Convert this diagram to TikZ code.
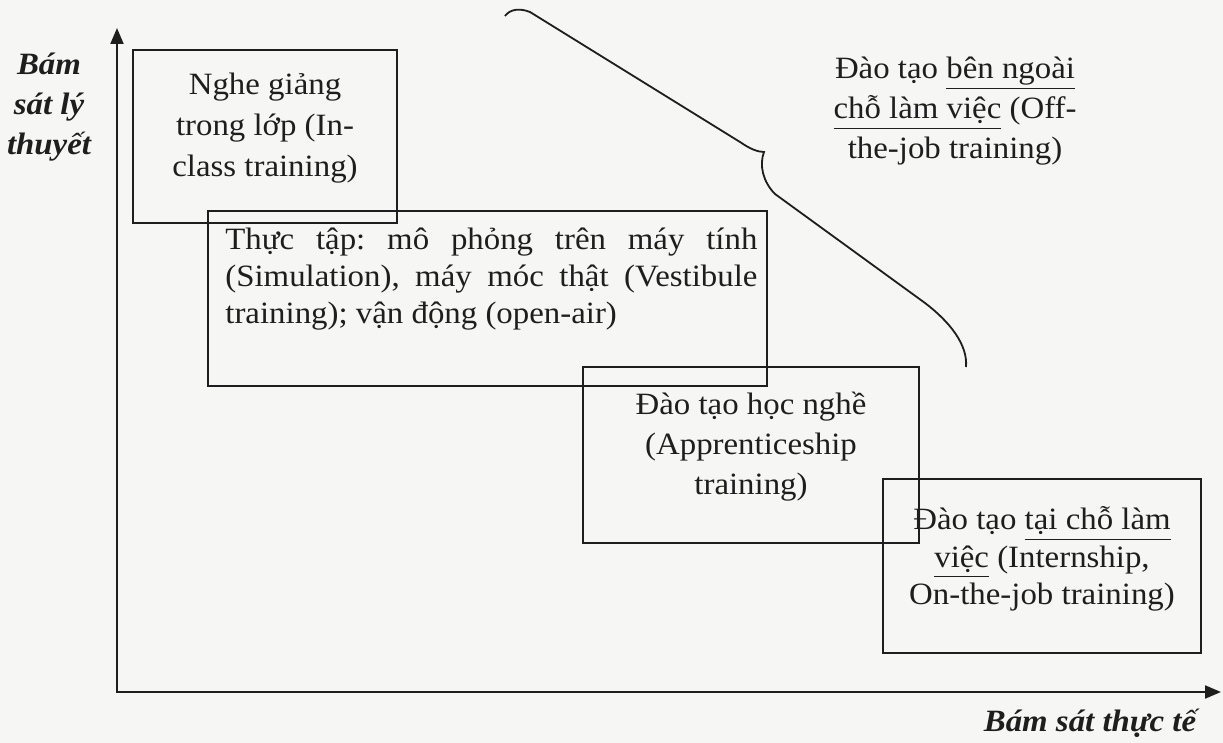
\documentclass[tikz,border=0pt]{standalone}
\usepackage{fontspec}
\setmainfont{Liberation Serif}[FakeStretch=1.06]
\usetikzlibrary{arrows.meta}
\definecolor{paper}{RGB}{246,246,244}
\definecolor{ink}{RGB}{30,30,30}
\newcommand\ulw[1]{\underline{#1\vphantom{g}}}
\frenchspacing
\begin{document}
\begin{tikzpicture}[x=0.5pt,y=-0.5pt,
  boxnode/.style={draw=ink, line width=1.1pt, inner sep=0pt},
  txt/.style={text=ink, font=\fontsize{15.5}{20}\selectfont, align=center, inner sep=0pt},
  lbl/.style={text=ink, font=\fontsize{15.5}{20}\selectfont\bfseries\itshape, align=center, inner sep=0pt},
  axis/.style={draw=ink, line width=1.1pt, {Triangle[length=8pt,width=6.5pt]}-{Triangle[length=8pt,width=6.5pt]}},
  bracepath/.style={draw=ink, line width=0.9pt}]
\fill[paper] (0,0) rectangle (1223,743);
\useasboundingbox (0,0) rectangle (1223,743);

% axes
\coordinate (o) at (117,692);
\coordinate (ytip) at (117,28);
\coordinate (xtip) at (1221,692);
\draw[axis] (ytip) -- (o) -- (xtip);

% boxes
\node[boxnode, minimum width=132pt, minimum height=86.5pt] (b1) at (265,136.5) {};
\node[boxnode, minimum width=279.5pt, minimum height=87.5pt] (b2) at (487.5,298.5) {};
\node[boxnode, minimum width=168pt, minimum height=88pt] (b3) at (751,455) {};
\node[boxnode, minimum width=159pt, minimum height=87pt] (b4) at (1042,566) {};

% texts
\node[txt, font=\fontsize{15.5}{20.5}\selectfont] (t1) at (265,128) {Nghe giảng\\trong lớp (In-\\class training)};
\node[txt, align=left, anchor=west, font=\fontsize{15.5}{18.5}\selectfont] (t2) at (225,279)
  {\makebox[266pt][s]{Thực tập: mô phỏng trên máy tính}\\\makebox[266pt][s]{(Simulation), máy móc thật (Vestibule}\\training); vận động (open-air)};
\node[txt] (t3) at (751,447) {Đào tạo học nghề\\(Apprenticeship\\training)};
\node[txt, font=\fontsize{15.5}{18.75}\selectfont] (t4) at (1042,559) {Đào tạo \ulw{tại chỗ làm}\\\ulw{việc} (Internship,\\On-the-job training)};
\node[txt] (t5) at (955,111) {Đào tạo \ulw{bên ngoài}\\\ulw{chỗ làm việc} (Off-\\the-job training)};

% axis labels
\node[lbl] (ly) at (49,107) {Bám\\sát lý\\thuyết};
\node[lbl] (tt) at (1090,723) {Bám sát thực tế};

% brace
\draw[bracepath] (505,16) .. controls (510,9) and (520,8) .. (530,12) -- (740,142)
  .. controls (750,149) and (758,152) .. (764,152)
  .. controls (759,165) and (763,182) .. (775,194) -- (925,303)
  .. controls (950,322) and (968,345) .. (966,367);
\end{tikzpicture}
\end{document}
